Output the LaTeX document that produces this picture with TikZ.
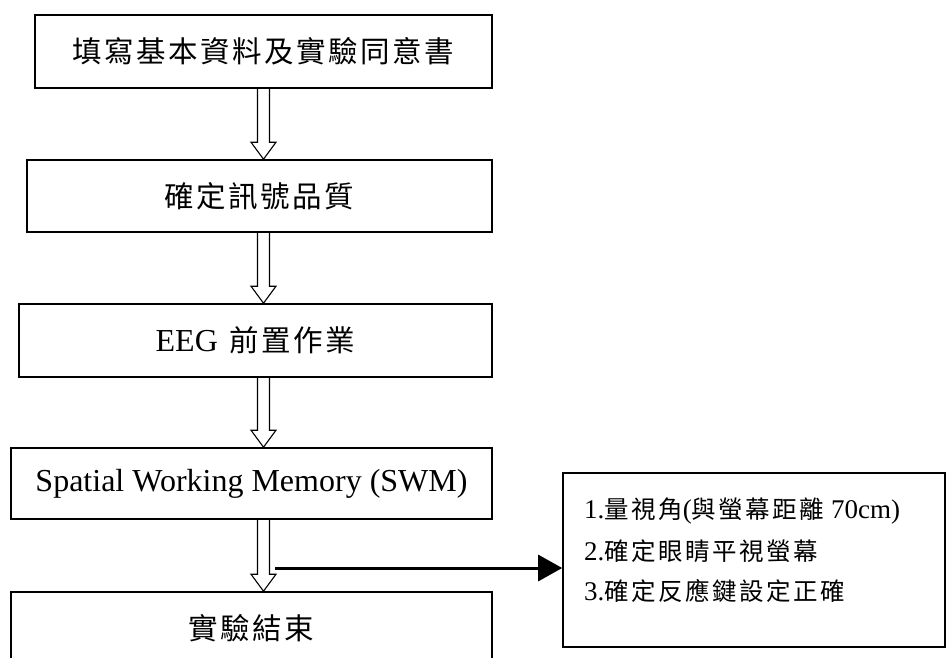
\documentclass[tikz,border=0pt]{standalone}
\usepackage{fontspec}
\setmainfont{Liberation Serif}
\newfontfamily\cjk{Noto Sans CJK TC}
\usetikzlibrary{arrows.meta,calc}

% CJK strings are set with a small gap between the characters
\newlength\cjkgap
\newcommand\spaced[1]{\spacedloop#1\relax\unskip}
\def\spacedloop#1{\ifx\relax#1\else#1\hskip\cjkgap\expandafter\spacedloop\fi}
\newcommand\bigtxt{\fontsize{32}{38}\selectfont}
\newcommand\smalltxt{\fontsize{27}{32}\selectfont}
\newcommand\cjkbig[1]{{\cjk\fontsize{29.5}{36}\selectfont\setlength\cjkgap{2.5pt}\spaced{#1}}}
\newcommand\cjksmall[1]{{\cjk\fontsize{24.5}{30}\selectfont\setlength\cjkgap{2.5pt}\spaced{#1}}}

\tikzset{
  box/.style={draw, line width=1.6pt, inner sep=0pt, anchor=center},
  hollowline/.style={draw, line width=1.1pt, line join=miter},
  sidetext/.style={anchor=west, inner sep=0pt},
}

% hollow block arrow between two stacked boxes
\newcommand\hollow[2]{%
  \draw[hollowline] let \p1=(axis |- #1.south), \p2=(axis |- #2.north) in
    (\x1-6pt,\y1) -- (\x1-6pt,\y2+17pt) -- (\x1-12.5pt,\y2+17pt) -- (\x1,\y2)
    -- (\x1+12.5pt,\y2+17pt) -- (\x1+6pt,\y2+17pt) -- (\x1+6pt,\y1);}

\begin{document}
\begin{tikzpicture}[x=1pt,y=1pt]
\useasboundingbox (0,0) rectangle (947,-657);
\clip (0,0) rectangle (947,-657);

\coordinate (axis) at (263.5,0);

\node[box, minimum width=457pt, minimum height=73pt] (b1) at (263.5,-51.5)
  {\cjkbig{填寫基本資料及實驗同意書}};
\node[box, minimum width=465pt, minimum height=72pt] (b2) at (259.5,-196)
  {\cjkbig{確定訊號品質}};
\node[box, minimum width=473pt, minimum height=73pt] (b3) at (255.5,-340.5)
  {{\bigtxt EEG}\hspace{12pt}\cjkbig{前置作業}};
\node[box, minimum width=481pt, minimum height=71pt] (b4) at (251.5,-483.5)
  {\bigtxt Spatial Working Memory (SWM)};
\node[box, minimum width=481pt, minimum height=72pt] (b5) at (251.5,-628)
  {\cjkbig{實驗結束}};

\hollow{b1}{b2}
\hollow{b2}{b3}
\hollow{b3}{b4}
\hollow{b4}{b5}

% side box with the checklist
\node[box, minimum width=382pt, minimum height=174pt] (side) at (754,-560) {};
\node[sidetext] (s1) at (584,-511)
  {\smalltxt 1.\cjksmall{量視角}(\cjksmall{與螢幕距離} 70cm)};
\node[sidetext] (s2) at (584,-551)
  {\smalltxt 2.\cjksmall{確定眼睛平視螢幕}};
\node[sidetext] (s3) at (584,-591)
  {\smalltxt 3.\cjksmall{確定反應鍵設定正確}};

\coordinate (tap) at (275,-568);
\draw[line width=3pt, -{Triangle[length=24pt,width=26pt]}] (tap) -- (tap -| side.west);
\end{tikzpicture}
\end{document}
